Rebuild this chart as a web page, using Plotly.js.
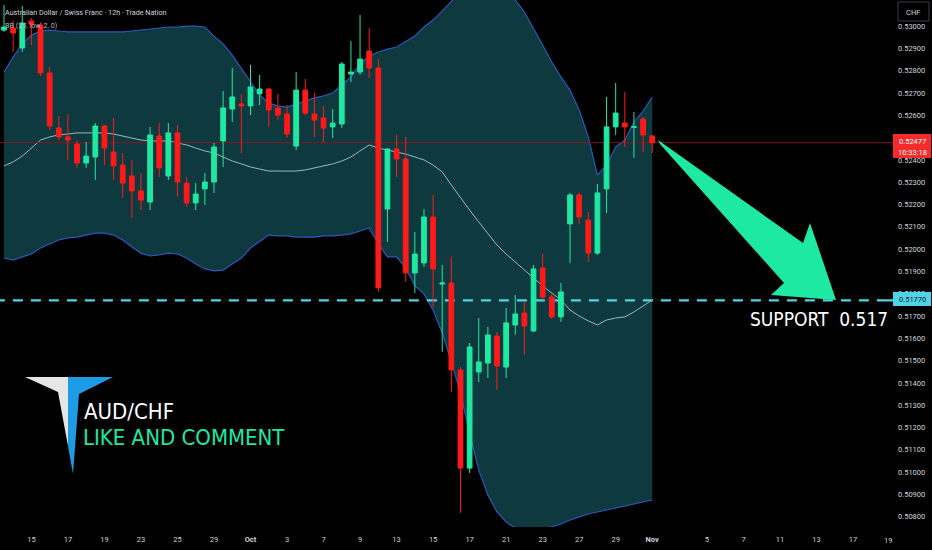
<!DOCTYPE html>
<html>
<head>
<meta charset="utf-8">
<script src="https://cdn.plot.ly/plotly-3.0.1.min.js"></script>
<style>
  html, body { margin: 0; padding: 0; background: #000; }
  #myDiv { width: 932px; height: 550px; }
</style>
</head>
<body>
<div id="myDiv"></div>
<script>
// AUD/CHF 12h candles
const open = [0.52982,0.52991,0.52902,0.53023,0.53005,0.52790,0.52543,0.52503,0.52471,0.52386,
  0.52413,0.52552,0.52435,0.52377,0.52328,0.52261,0.52211,0.52507,0.52328,0.52521,
  0.52296,0.52207,0.52270,0.52301,0.52485,0.52628,0.52651,0.52642,0.52696,0.52718,
  0.52633,0.52606,0.52462,0.52713,0.52606,0.52588,0.52548,0.52561,0.52785,0.52794,
  0.52888,0.52812,0.52180,0.52449,0.52404,0.51893,0.51938,0.52144,0.51843,0.51848,
  0.51458,0.51018,0.51449,0.51489,0.51610,0.51471,0.51660,0.51713,0.51633,0.51915,
  0.51785,0.51696,0.52113,0.52243,0.52130,0.51982,0.52270,0.52548,0.52565,0.52546,
  0.52583,0.52507];
const high = [0.53095,0.53023,0.53090,0.53036,0.53018,0.52817,0.52597,0.52606,0.52489,0.52480,
  0.52565,0.52557,0.52588,0.52431,0.52400,0.52341,0.52548,0.52565,0.52565,0.52557,
  0.52323,0.52296,0.52341,0.52476,0.52709,0.52812,0.52696,0.52826,0.52781,0.52722,
  0.52696,0.52646,0.52794,0.52763,0.52700,0.52642,0.52628,0.52839,0.52933,0.53050,
  0.52991,0.52852,0.52452,0.52512,0.52503,0.52077,0.52180,0.52243,0.51929,0.51965,
  0.51471,0.51579,0.51691,0.51651,0.51628,0.51736,0.51794,0.51763,0.51929,0.51978,
  0.51803,0.51848,0.52252,0.52252,0.52166,0.52292,0.52682,0.52745,0.52704,0.52615,
  0.52592,0.52512];
const low = [0.52974,0.52884,0.52884,0.52915,0.52776,0.52534,0.52489,0.52400,0.52364,0.52364,
  0.52310,0.52377,0.52310,0.52229,0.52139,0.52175,0.52175,0.52323,0.52310,0.52234,
  0.52189,0.52175,0.52198,0.52252,0.52368,0.52570,0.52431,0.52601,0.52646,0.52548,
  0.52579,0.52498,0.52444,0.52601,0.52503,0.52480,0.52498,0.52543,0.52749,0.52781,
  0.52767,0.51808,0.52032,0.52323,0.51852,0.51803,0.51920,0.51740,0.51539,0.51359,
  0.50817,0.50996,0.51404,0.51422,0.51368,0.51422,0.51615,0.51525,0.51628,0.51772,
  0.51687,0.51673,0.51938,0.52113,0.51942,0.51974,0.52162,0.52512,0.52458,0.52409,
  0.52435,0.52431];
const close = [0.52996,0.52969,0.53014,0.53009,0.52790,0.52552,0.52503,0.52489,0.52386,0.52417,
  0.52552,0.52453,0.52373,0.52296,0.52261,0.52220,0.52512,0.52364,0.52521,0.52301,
  0.52207,0.52247,0.52301,0.52458,0.52633,0.52682,0.52642,0.52727,0.52718,0.52624,
  0.52601,0.52516,0.52713,0.52610,0.52579,0.52543,0.52565,0.52830,0.52794,0.52852,
  0.52812,0.51826,0.52449,0.52404,0.51893,0.51978,0.52144,0.51911,0.51848,0.51458,
  0.51018,0.51561,0.51494,0.51615,0.51476,0.51669,0.51709,0.51655,0.51911,0.51785,
  0.51696,0.51808,0.52243,0.52144,0.51982,0.52252,0.52548,0.52610,0.52548,0.52549,
  0.52512,0.52477];

// Bollinger bands as drawn on the chart
const bbUpper = [0.52794,0.52861,0.52920,0.52960,0.52978,0.52982,0.52978,0.52974,0.52974,0.52974,
  0.52974,0.52974,0.52974,0.52974,0.52978,0.52982,0.52987,0.52991,0.52996,0.52996,
  0.53000,0.53000,0.52996,0.52955,0.52920,0.52870,0.52812,0.52749,0.52691,0.52655,
  0.52642,0.52637,0.52651,0.52664,0.52678,0.52687,0.52700,0.52736,0.52772,0.52830,
  0.52866,0.52884,0.52897,0.52906,0.52929,0.52955,0.52996,0.53027,0.53068,0.53113,
  0.53153,0.53184,0.53197,0.53197,0.53184,0.53157,0.53117,0.53063,0.52991,0.52915,
  0.52839,0.52772,0.52713,0.52624,0.52503,0.52332,0.52377,0.52458,0.52489,0.52570,
  0.52619,0.52682];
const bbLower = [0.51960,0.51951,0.51965,0.51978,0.52005,0.52023,0.52041,0.52050,0.52054,0.52063,
  0.52072,0.52072,0.52063,0.52041,0.52009,0.51982,0.51969,0.51974,0.51982,0.51978,
  0.51960,0.51933,0.51911,0.51902,0.51906,0.51933,0.51960,0.52005,0.52036,0.52063,
  0.52059,0.52059,0.52054,0.52054,0.52054,0.52059,0.52059,0.52063,0.52068,0.52081,
  0.52095,0.52023,0.51965,0.51965,0.51915,0.51835,0.51799,0.51727,0.51624,0.51494,
  0.51355,0.51175,0.51009,0.50897,0.50821,0.50776,0.50749,0.50740,0.50740,0.50745,
  0.50754,0.50767,0.50785,0.50799,0.50812,0.50821,0.50830,0.50839,0.50848,0.50857,
  0.50866,0.50875];
const bbBasis = [0.52373,0.52391,0.52417,0.52453,0.52489,0.52503,0.52512,0.52516,0.52521,0.52521,
  0.52521,0.52521,0.52516,0.52507,0.52498,0.52489,0.52485,0.52485,0.52485,0.52476,
  0.52467,0.52453,0.52440,0.52431,0.52413,0.52395,0.52382,0.52368,0.52359,0.52350,
  0.52350,0.52350,0.52350,0.52355,0.52364,0.52373,0.52382,0.52395,0.52413,0.52440,
  0.52467,0.52453,0.52444,0.52435,0.52426,0.52413,0.52400,0.52377,0.52346,0.52287,
  0.52229,0.52175,0.52122,0.52068,0.52018,0.51978,0.51942,0.51906,0.51870,0.51835,
  0.51803,0.51772,0.51727,0.51700,0.51678,0.51660,0.51682,0.51691,0.51696,0.51718,
  0.51745,0.51772];

// date labels on the time axis (candle index -> label)
const tickIdx = [3,7,11,15,19,23,27,31,35,39,43,47,51,55,59,63,67,71,77,81,85,89,93];
const tickText = ['15','17','19','23','25','29','<b>Oct</b>','3','7','9','13','15','17','21','23','27','29','<b>Nov</b>','5','7','11','13','17'];

const supportLevel = 0.5177;
const lastPrice = close[close.length - 1];

const idx = close.map((v, i) => i);
const W = 885, H = 527;          // plot area in pixels
const px = x => x / W;
const py = y => 1 - y / H;
const green = '#1de9a3';
const red = '#ff1a1a';
const cond = 'DejaVu Sans Condensed, Roboto, sans-serif';
const small = 'Roboto, sans-serif';
const xRange = [-0.44, 96.5];
const yRange = [0.507538, 0.53117];

const traces = [
  {x: idx, y: bbUpper, type: 'scatter', mode: 'lines', line: {color: '#2b58b8', width: 1.2}, hoverinfo: 'skip'},
  {x: idx, y: bbLower, type: 'scatter', mode: 'lines', fill: 'tonexty', fillcolor: '#0e3a3f',
   line: {color: '#2b58b8', width: 1.2}, hoverinfo: 'skip'},
  {x: idx, y: bbBasis, type: 'scatter', mode: 'lines', line: {color: '#8fbcbd', width: 1}, hoverinfo: 'skip'},
  {x: [-1, 100], y: [lastPrice, lastPrice], type: 'scatter', mode: 'lines', line: {color: '#7d1c1c', width: 1}, hoverinfo: 'skip'},
  {x: [-1, 100], y: [supportLevel, supportLevel], type: 'scatter', mode: 'lines',
   line: {color: '#4fd3e6', width: 2.2, dash: '10px,8px'}, hoverinfo: 'skip'},
  // candles sit on an overlaying pair of axes so they are drawn above the band fill
  {x: idx, open: open, high: high, low: low, close: close, type: 'candlestick',
   xaxis: 'x2', yaxis: 'y2',
   increasing: {line: {color: green, width: 1}, fillcolor: green},
   decreasing: {line: {color: red, width: 1}, fillcolor: red},
   whiskerwidth: 0, hoverinfo: 'skip'}
];

const shapes = [
  // big arrow
  {type: 'path', xref: 'paper', yref: 'paper', layer: 'above', line: {width: 0}, fillcolor: green,
   path: 'M' + px(658) + ',' + py(140) + ' L' + px(803) + ',' + py(243) + ' L' + px(810) + ',' + py(223) +
         ' L' + px(836) + ',' + py(300) + ' L' + px(771) + ',' + py(295) + ' L' + px(784) + ',' + py(283) +
         ' L' + px(660) + ',' + py(144) + ' Z'},
  // logo, white half
  {type: 'path', xref: 'paper', yref: 'paper', layer: 'above', line: {width: 0}, fillcolor: '#e6e6e6',
   path: 'M' + px(25) + ',' + py(377) + ' L' + px(68) + ',' + py(377) + ' L' + px(68) + ',' + py(446) +
         ' L' + px(58) + ',' + py(392) + ' Z'},
  // logo, blue half
  {type: 'path', xref: 'paper', yref: 'paper', layer: 'above', line: {width: 0}, fillcolor: '#1e9be6',
   path: 'M' + px(68) + ',' + py(377) + ' L' + px(113) + ',' + py(377) + ' L' + px(79) + ',' + py(394) +
         ' L' + px(73) + ',' + py(474) + ' L' + px(68) + ',' + py(446) + ' Z'},
  // price tags on the right
  {type: 'line', xref: 'paper', yref: 'y', layer: 'above', x0: 1, x1: px(893), y0: supportLevel, y1: supportLevel,
   line: {color: '#4fd3e6', width: 2.2}},
  {type: 'rect', xref: 'paper', yref: 'paper', layer: 'above', x0: px(893), x1: px(931), y0: py(292), y1: py(306),
   fillcolor: '#4fd3e6', line: {width: 0}},
  {type: 'line', xref: 'paper', yref: 'y', layer: 'above', x0: 1, x1: px(893), y0: lastPrice, y1: lastPrice,
   line: {color: '#7d1c1c', width: 1}},
  {type: 'rect', xref: 'paper', yref: 'paper', layer: 'above', x0: px(893), x1: px(931), y0: py(134), y1: py(158),
   fillcolor: '#f52a2a', line: {width: 0}},
  // currency button
  {type: 'rect', xref: 'paper', yref: 'paper', layer: 'above', x0: px(898), x1: px(929), y0: py(2), y1: py(21),
   fillcolor: '#000', line: {color: '#3a3e48', width: 1}}
];

const ann = (x, y, text, size, color, family, extra) => Object.assign({
  xref: 'paper', yref: 'paper', x: px(x), y: py(y), text: text, showarrow: false,
  xanchor: 'left', yanchor: 'middle', font: {family: family, size: size, color: color}
}, extra || {});

const annotations = [
  ann(3, 13, 'Australian Dollar / Swiss Franc · 12h · Trade Nation', 7.2, '#d1d4dc', small),
  ann(3, 26, 'BB (25, low, 2, 0)', 7.2, '#b2b5be', small),
  ann(748, 319, 'SUPPORT\u00a0\u00a00.517', 19, '#ffffff', cond),
  ann(82, 411, 'AUD/CHF', 22, '#ffffff', cond),
  ann(81, 437, 'LIKE AND COMMENT', 22, green, cond),
  ann(912, 141, lastPrice.toFixed(5), 7.5, '#ffffff', small, {xanchor: 'center'}),
  ann(912, 152, '10:33:18', 7.5, '#ffffff', small, {xanchor: 'center'}),
  ann(912, 299, supportLevel.toFixed(5), 7.5, '#0a1a1f', small, {xanchor: 'center'}),
  ann(913, 12, 'CHF', 7.5, '#d1d4dc', small, {xanchor: 'center'}),
  ann(888, 540, '19', 7.5, '#d1d4dc', small, {xanchor: 'center'})
];

const layout = {
  width: 932,
  height: 550,
  margin: {l: 0, r: 47, t: 0, b: 23},
  paper_bgcolor: '#000000',
  plot_bgcolor: '#000000',
  showlegend: false,
  hovermode: false,
  boxgap: 0.26,
  xaxis: {
    range: xRange,
    showgrid: false,
    zeroline: false,
    showline: false,
    rangeslider: {visible: false},
    tickmode: 'array',
    tickvals: tickIdx,
    ticktext: tickText,
    ticks: '',
    ticklabelstandoff: 6,
    tickfont: {family: small, size: 7.5, color: '#d1d4dc'}
  },
  yaxis: {
    side: 'right',
    range: yRange,
    showgrid: false,
    zeroline: false,
    showline: false,
    tick0: 0.5,
    dtick: 0.001,
    tickformat: '.5f',
    ticks: '',
    ticklabelstandoff: 12,
    tickfont: {family: small, size: 7.5, color: '#d1d4dc'}
  },
  xaxis2: {overlaying: 'x', range: xRange, visible: false, rangeslider: {visible: false}},
  yaxis2: {overlaying: 'y', range: yRange, visible: false},
  shapes: shapes,
  annotations: annotations
};

Plotly.newPlot('myDiv', traces, layout, {displayModeBar: false, staticPlot: true});
</script>
</body>
</html>
